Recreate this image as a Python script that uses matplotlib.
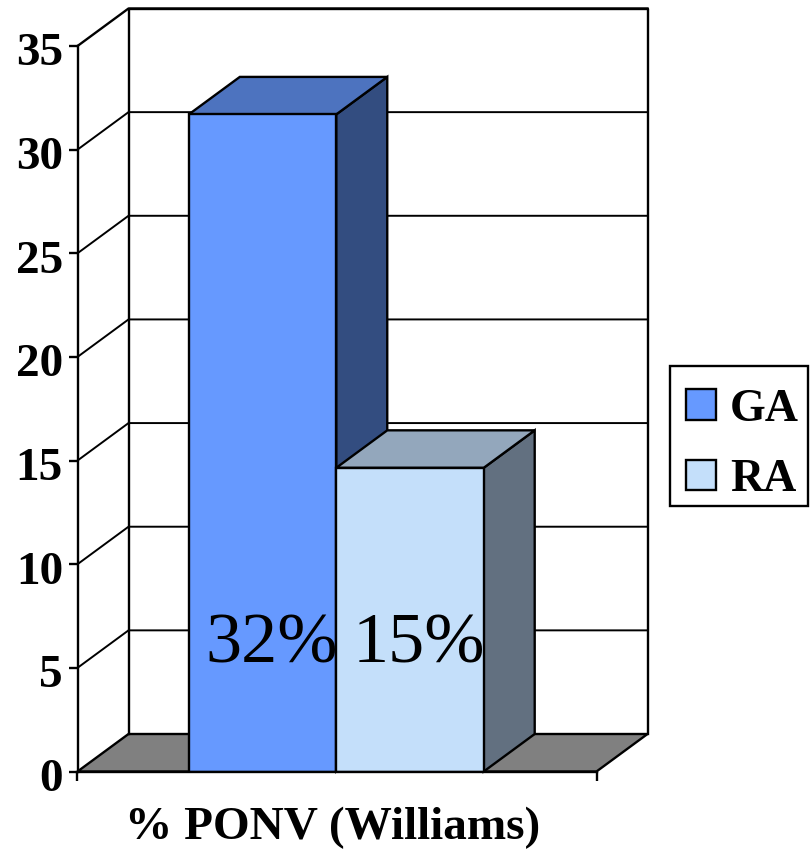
import matplotlib
matplotlib.use("Agg")
import matplotlib.pyplot as plt
from matplotlib.patches import Patch, Rectangle
from matplotlib.transforms import ScaledTranslation

series = ["GA", "RA"]
values = [31.7, 14.65]
labels = ["32%", "15%"]
yticks = [0, 5, 10, 15, 20, 25, 30, 35]
xlabel = "% PONV (Williams)"

front = ["#6699FF", "#C4DFFA"]
top = ["#4D73BF", "#93A7BC"]
side = ["#334D80", "#627080"]

W, H = 811, 849
plt.rcParams["font.family"] = ["Liberation Serif", "DejaVu Serif"]
fig = plt.figure(figsize=(W / 100, H / 100), dpi=100, facecolor="white")
ax = fig.add_axes([77.5 / W, 1 - 771.5 / H, 519 / W, 725.5 / H])
xmin, xmax = -0.755, 2.765
ax.set_xlim(xmin, xmax)
ax.set_ylim(0, 35)
ax.patch.set_visible(False)

ddx = 51 / 519 * (xmax - xmin)
ddy = 37.5 / 725.5 * 35
LW = 1.7
GRID = 1.4

# walls and floor
ax.fill([xmin, xmax, xmax + ddx, xmin + ddx], [0, 0, ddy, ddy],
        fc="#808080", ec="black", lw=LW, clip_on=False, zorder=1)
ax.plot([xmin + ddx, xmin + ddx, xmax + ddx, xmax + ddx], [ddy, 35 + ddy, 35 + ddy, ddy],
        color="black", lw=LW, clip_on=False, zorder=1, solid_capstyle="projecting")
for t in yticks[1:]:
    ax.plot([xmin, xmin + ddx, xmax + ddx], [t, t + ddy, t + ddy],
            color="black", lw=LW if t == 35 else GRID, clip_on=False, zorder=1)

# bars
for i, v in enumerate(values):
    ax.fill([i + 1, i + 1 + ddx, i + 1 + ddx, i + 1], [0, ddy, v + ddy, v],
            fc=side[i], ec="black", lw=LW, clip_on=False, zorder=2 + i)
    ax.fill([i, i + 1, i + 1 + ddx, i + ddx], [v, v, v + ddy, v + ddy],
            fc=top[i], ec="black", lw=LW, clip_on=False, zorder=2 + i)
    ax.bar(i + 0.5, v, width=1, color=front[i], edgecolor="black", lw=LW, zorder=2 + i)
for i, s in enumerate(labels):
    ax.text(i + 0.56, 6.1, s, fontsize=52, ha="center", va="center", color="black",
            zorder=6, clip_on=False)

for sp in ["top", "right"]:
    ax.spines[sp].set_visible(False)
for sp in ["left", "bottom"]:
    ax.spines[sp].set_linewidth(LW)
    ax.spines[sp].set_zorder(5)
ax.set_yticks(yticks)
ax.set_yticklabels([str(t) for t in yticks], fontsize=34, fontweight="bold")
ax.set_xticks([xmin, xmax])
ax.set_xticklabels(["", ""])
ax.tick_params(axis="y", length=6.5, width=LW, pad=4)
ax.tick_params(axis="x", length=6.5, width=LW, pad=0)
for lab in ax.get_yticklabels():
    lab.set_transform(lab.get_transform() + ScaledTranslation(0, -2.5 / 72, fig.dpi_scale_trans))
ax.set_xlabel(xlabel, fontsize=34, fontweight="bold", labelpad=19, x=0.4925)

fig.add_artist(Rectangle((670 / W, 1 - 506 / H), 138 / W, 140 / H, transform=fig.transFigure,
                         fc="white", ec="black", lw=LW, zorder=3))
handles = [Patch(fc=front[i], ec="black", lw=LW, label=series[i]) for i in range(2)]
leg = fig.legend(handles=handles, loc="center left", bbox_to_anchor=(686 / W, 1 - 445 / H),
                 bbox_transform=fig.transFigure, prop={"size": 33, "weight": "bold"},
                 handlelength=0.655, handleheight=0.655, handletextpad=0.3,
                 labelspacing=0.62, borderpad=0, borderaxespad=0,
                 frameon=False, labelcolor="black")
leg.set_zorder(4)

fig.savefig("out.png", dpi=100, facecolor="white")
